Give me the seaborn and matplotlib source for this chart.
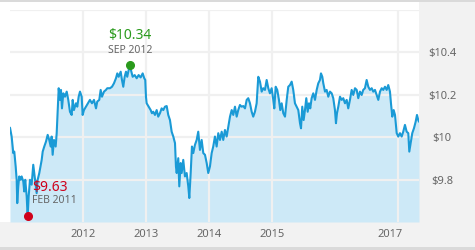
import matplotlib
matplotlib.use("Agg")
import matplotlib.pyplot as plt
import seaborn as sns
import pandas as pd
from matplotlib.patches import Rectangle
from matplotlib.transforms import ScaledTranslation

# ---- data (decimal year, price) ----
years = [
    2010.837, 2010.863, 2010.889, 2010.905, 2010.927, 2010.943, 2010.952, 2010.968, 2010.984, 2011.006,
    2011.022, 2011.048, 2011.063, 2011.079, 2011.102, 2011.117, 2011.133, 2011.154, 2011.181, 2011.206,
    2011.222, 2011.244, 2011.260, 2011.276, 2011.302, 2011.340, 2011.356, 2011.381, 2011.408, 2011.435,
    2011.460, 2011.483, 2011.498, 2011.514, 2011.535, 2011.562, 2011.578, 2011.594, 2011.610, 2011.630,
    2011.646, 2011.662, 2011.683, 2011.710, 2011.737, 2011.762, 2011.789, 2011.816, 2011.832, 2011.852,
    2011.884, 2011.905, 2011.927, 2011.948, 2011.975, 2011.990, 2012.011, 2012.043, 2012.075, 2012.106,
    2012.138, 2012.170, 2012.202, 2012.222, 2012.254, 2012.276, 2012.297, 2012.329, 2012.360, 2012.381,
    2012.424, 2012.456, 2012.487, 2012.519, 2012.540, 2012.562, 2012.594, 2012.614, 2012.635, 2012.657,
    2012.678, 2012.698, 2012.721, 2012.737, 2012.757, 2012.784, 2012.816, 2012.848, 2012.879, 2012.911,
    2012.943, 2012.968, 2012.984, 2012.995, 2013.006, 2013.038, 2013.070, 2013.090, 2013.111, 2013.138,
    2013.165, 2013.190, 2013.217, 2013.244, 2013.270, 2013.297, 2013.324, 2013.349, 2013.376, 2013.403,
    2013.429, 2013.456, 2013.471, 2013.483, 2013.508, 2013.524, 2013.546, 2013.562, 2013.587, 2013.614,
    2013.641, 2013.667, 2013.683, 2013.705, 2013.725, 2013.746, 2013.773, 2013.800, 2013.825, 2013.852,
    2013.879, 2013.905, 2013.932, 2013.959, 2013.984, 2014.011, 2014.038, 2014.063, 2014.090, 2014.117,
    2014.143, 2014.170, 2014.197, 2014.222, 2014.249, 2014.276, 2014.302, 2014.329, 2014.356, 2014.381,
    2014.408, 2014.435, 2014.460, 2014.487, 2014.514, 2014.540, 2014.567, 2014.594, 2014.619, 2014.646,
    2014.673, 2014.698, 2014.725, 2014.752, 2014.778, 2014.805, 2014.832, 2014.857, 2014.884, 2014.911,
    2014.937, 2014.963, 2014.990, 2015.016, 2015.032, 2015.054, 2015.079, 2015.106, 2015.127, 2015.149,
    2015.175, 2015.202, 2015.229, 2015.254, 2015.281, 2015.308, 2015.333, 2015.360, 2015.387, 2015.413,
    2015.440, 2015.456, 2015.476, 2015.498, 2015.519, 2015.540, 2015.562, 2015.583, 2015.603, 2015.625,
    2015.651, 2015.678, 2015.705, 2015.730, 2015.757, 2015.773, 2015.794, 2015.810, 2015.837, 2015.863,
    2015.889, 2015.916, 2015.943, 2015.968, 2015.995, 2016.011, 2016.027, 2016.048, 2016.075, 2016.102,
    2016.127, 2016.154, 2016.181, 2016.206, 2016.233, 2016.260, 2016.286, 2016.313, 2016.340, 2016.365,
    2016.392, 2016.419, 2016.444, 2016.471, 2016.498, 2016.524, 2016.551, 2016.578, 2016.603, 2016.630,
    2016.657, 2016.683, 2016.710, 2016.737, 2016.762, 2016.789, 2016.816, 2016.841, 2016.868, 2016.884,
    2016.905, 2016.927, 2016.948, 2016.975, 2017.000, 2017.027, 2017.054, 2017.079, 2017.106, 2017.133,
    2017.159, 2017.175, 2017.197, 2017.222, 2017.249, 2017.276, 2017.297, 2017.317, 2017.329,
]
prices = [
    10.045, 10.003, 9.925, 9.932, 9.862, 9.799, 9.689, 9.768, 9.815, 9.799,
    9.815, 9.791, 9.744, 9.799, 9.720, 9.626, 9.720, 9.799, 9.776, 9.870,
    9.831, 9.776, 9.736, 9.799, 9.831, 9.893, 9.932, 9.956, 9.979, 10.011,
    9.987, 9.956, 10.003, 9.917, 9.987, 9.956, 10.019, 10.128, 10.231, 10.176,
    10.223, 10.136, 10.207, 10.191, 10.215, 10.176, 10.120, 10.105, 10.176, 10.128,
    10.160, 10.144, 10.191, 10.215, 10.191, 10.105, 10.128, 10.144, 10.160, 10.176,
    10.160, 10.176, 10.136, 10.168, 10.176, 10.223, 10.191, 10.215, 10.223, 10.231,
    10.231, 10.238, 10.254, 10.278, 10.301, 10.285, 10.309, 10.270, 10.238, 10.285,
    10.309, 10.285, 10.317, 10.340, 10.317, 10.285, 10.293, 10.278, 10.293, 10.282,
    10.301, 10.278, 10.270, 10.191, 10.160, 10.144, 10.128, 10.113, 10.120, 10.105,
    10.128, 10.097, 10.113, 10.136, 10.128, 10.144, 10.147, 10.105, 10.081, 10.026,
    10.003, 9.972, 9.862, 9.831, 9.901, 9.768, 9.878, 9.831, 9.893, 9.815,
    9.831, 9.768, 9.713, 9.831, 9.956, 9.925, 9.964, 9.987, 10.026, 9.940,
    9.987, 9.925, 9.917, 9.878, 9.831, 9.862, 9.925, 9.956, 10.003, 9.956,
    10.019, 9.987, 10.026, 9.987, 10.034, 10.003, 10.050, 10.097, 10.128, 10.105,
    10.144, 10.097, 10.128, 10.152, 10.144, 10.147, 10.136, 10.176, 10.184, 10.160,
    10.120, 10.097, 10.120, 10.160, 10.285, 10.262, 10.215, 10.231, 10.223, 10.270,
    10.231, 10.207, 10.231, 10.176, 10.136, 10.238, 10.223, 10.176, 10.128, 10.160,
    10.113, 10.097, 10.176, 10.238, 10.246, 10.262, 10.223, 10.160, 10.144, 10.128,
    10.066, 10.042, 10.144, 10.081, 10.128, 10.184, 10.120, 10.160, 10.136, 10.184,
    10.207, 10.176, 10.223, 10.254, 10.270, 10.301, 10.285, 10.254, 10.215, 10.223,
    10.191, 10.215, 10.207, 10.184, 10.128, 10.066, 10.113, 10.144, 10.191, 10.176,
    10.184, 10.160, 10.176, 10.136, 10.176, 10.223, 10.199, 10.231, 10.223, 10.184,
    10.215, 10.199, 10.223, 10.231, 10.270, 10.238, 10.223, 10.231, 10.215, 10.223,
    10.199, 10.176, 10.215, 10.231, 10.223, 10.238, 10.223, 10.246, 10.215, 10.160,
    10.097, 10.128, 10.105, 10.019, 10.003, 10.019, 10.003, 10.026, 10.058, 10.026,
    10.019, 9.932, 9.972, 10.019, 10.042, 10.073, 10.105, 10.081, 10.073,
]
x_ticks = [2012, 2013, 2014, 2015, 2017]
x_tick_labels = ["2012", "2013", "2014", "2015", "2017"]
y_ticks = [9.8, 10.0, 10.2, 10.4, 10.6]
y_tick_labels = ["$9.8", "$10", "$10.2", "$10.4", ""]
month_names = ["JAN", "FEB", "MAR", "APR", "MAY", "JUN",
               "JUL", "AUG", "SEP", "OCT", "NOV", "DEC"]

LINE = "#1a9ad6"
FILL = "#cde9f7"
GRID = "#f0f0f0"
PANEL = "#f2f2f2"
EDGE = "#dadada"
TXT = "#666666"
GREEN = "#2a9a1c"
RED = "#d0021b"

sns.set_style("white")
plt.rcParams["font.family"] = ["Noto Sans", "DejaVu Sans"]

df = pd.DataFrame({"year": years, "price": prices})

W, H = 475, 250
fig = plt.figure(figsize=(W / 100, H / 100), dpi=100, facecolor=PANEL)


def fx(px):
    return px / W


def fy(py):
    return 1 - py / H


# white chart panel, thin darker edges top and bottom (behind the axes)
fig.patches.append(Rectangle((0, fy(222)), fx(419), fy(2) - fy(222),
                             transform=fig.transFigure, facecolor="white",
                             edgecolor="none", zorder=-10))
fig.patches.append(Rectangle((0, fy(2)), 1, 2 / H, transform=fig.transFigure,
                             facecolor=EDGE, edgecolor="none", zorder=-10))
fig.patches.append(Rectangle((0, 0), 1, 3 / H, transform=fig.transFigure,
                             facecolor=EDGE, edgecolor="none", zorder=-10))

ax = fig.add_axes([fx(10), fy(222), fx(419) - fx(10), fy(10) - fy(222)])
ax.set_facecolor("white")

ymin, ymax = 9.6, 10.6
ax.fill_between(df["year"], df["price"], ymin, color=FILL, lw=0, zorder=1)
sns.lineplot(data=df, x="year", y="price", ax=ax, color=LINE, lw=1.5,
             estimator=None, zorder=3)

ax.set_xlim(years[0], years[-1])
ax.set_ylim(ymin, ymax)
ax.set_xlabel("")
ax.set_ylabel("")

ax.set_xticks(x_ticks)
ax.set_xticklabels(x_tick_labels)
ax.set_yticks(y_ticks)
ax.set_yticklabels(y_tick_labels)
ax.yaxis.tick_right()
ax.tick_params(axis="both", length=0, labelsize=8, labelcolor=TXT)
ax.tick_params(axis="x", pad=5)
ax.tick_params(axis="y", pad=16.5)
for lab in ax.get_yticklabels():
    lab.set_horizontalalignment("center")
# last x label sits a little left of its gridline in the reference
xl = ax.get_xticklabels()
xl[-1].set_transform(xl[-1].get_transform() +
                     ScaledTranslation(-8 / 100, 0, fig.dpi_scale_trans))

ax.set_axisbelow(False)
ax.grid(True, color=GRID, lw=1.6)
for s in ax.spines.values():
    s.set_visible(False)

# max / min annotations
i_max = int(df["price"].idxmax())
i_min = int(df["price"].idxmin())
t_max, v_max = years[i_max], prices[i_max]
t_min, v_min = years[i_min], prices[i_min]


def date_label(t):
    yr = int(t)
    m = int((t - yr) * 12)
    return f"{month_names[m]} {yr}"


ax.plot([t_max], [v_max], "o", color=GREEN, ms=5.5, zorder=5, clip_on=False)
ax.plot([t_min], [v_min], "o", color=RED, ms=5.5, zorder=5, clip_on=False)

ax.annotate(f"${v_max:.2f}", (t_max, v_max), xytext=(0, 21.5),
            textcoords="offset points", ha="center", va="center",
            color=GREEN, fontsize=10, zorder=6)
ax.annotate(date_label(t_max), (t_max, v_max), xytext=(0, 10.6),
            textcoords="offset points", ha="center", va="center",
            color=TXT, fontsize=7.5, zorder=6)
ax.annotate(f"${v_min:.2f}", (t_min, v_min), xytext=(3.2, 21.2),
            textcoords="offset points", ha="left", va="center",
            color=RED, fontsize=10, zorder=6)
ax.annotate(date_label(t_min), (t_min, v_min), xytext=(3.0, 11.3),
            textcoords="offset points", ha="left", va="center",
            color=TXT, fontsize=7.5, zorder=6)

fig.savefig("out.png", dpi=100, facecolor=fig.get_facecolor())
